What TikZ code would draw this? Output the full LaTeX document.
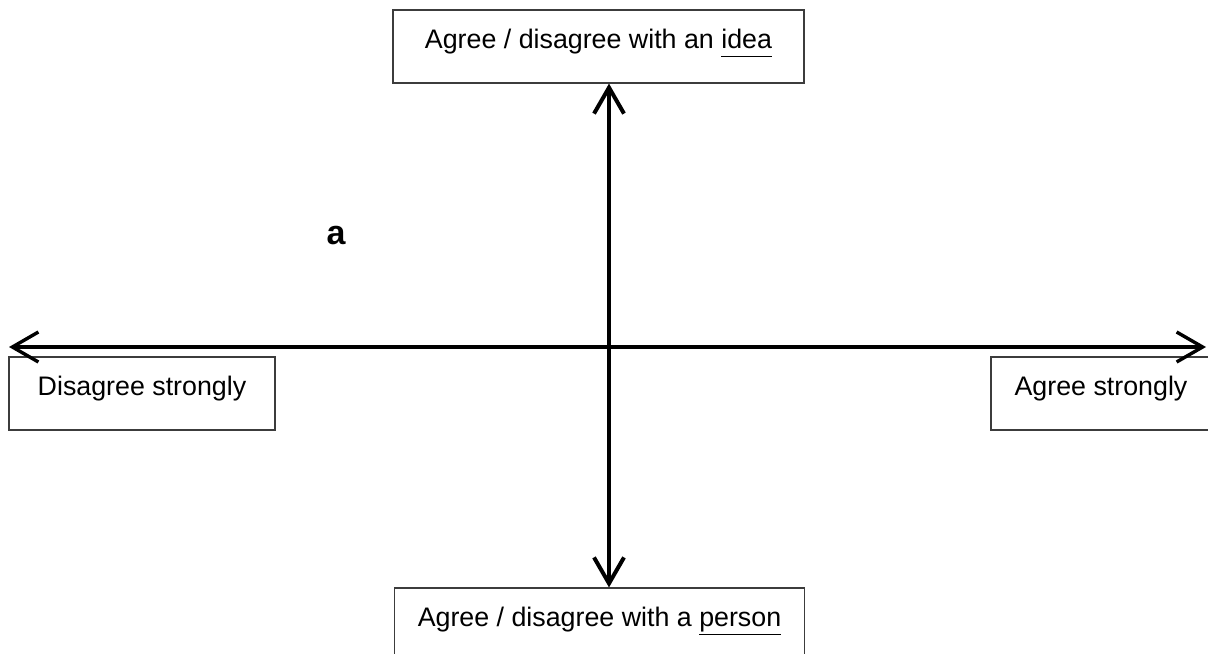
\documentclass[tikz,border=0pt]{standalone}
\usepackage{fontspec}
\setmainfont{Liberation Sans}
\usepackage{tikz}
\usetikzlibrary{arrows.meta,positioning,calc}
\definecolor{boxgray}{RGB}{60,60,60}
\newcommand{\uword}[1]{\underline{#1\vphantom{p}}}

\begin{document}
\begin{tikzpicture}[
    x=0.5pt, y=-0.5pt,
    box/.style={draw=boxgray, line width=0.6pt, inner sep=0pt, minimum height=36.5pt,
        text height=19pt, text depth=17.5pt, font=\fontsize{13.4pt}{15pt}\selectfont},
    axis/.style={line width=1.7pt, {Straight Barb[length=13pt,width=15pt]}-{Straight Barb[length=13pt,width=15pt]}},
]
    \useasboundingbox (0,0) rectangle (1208,653);
    \begin{scope}
    \clip (0,0) rectangle (1208,653);
    % Boxes
    \node[box, minimum width=205.5pt] (idea) at (598.5,46.5) {Agree / disagree with an \uword{idea}};
    \node[box, minimum width=205pt] (person) at (599.5,624.5) {Agree / disagree with a \uword{person}};
    \node[box, minimum width=133pt] (disagree) at (142,393.5) {Disagree strongly};
    \node[box, minimum width=110pt] (agree) at (1101,393.5) {Agree strongly};
    % Label
    \node[font=\fontsize{17pt}{19pt}\selectfont\bfseries] (label) at (336,236) {a};
    % Axes
    \coordinate (centre) at (609,347);
    \coordinate (west) at (9,347);
    \coordinate (east) at (1206,347);
    \draw[axis, line width=2pt] (idea.south -| centre) -- (person.north -| centre);
    \draw[axis] (west) -- (east);
    \end{scope}
\end{tikzpicture}
\end{document}
